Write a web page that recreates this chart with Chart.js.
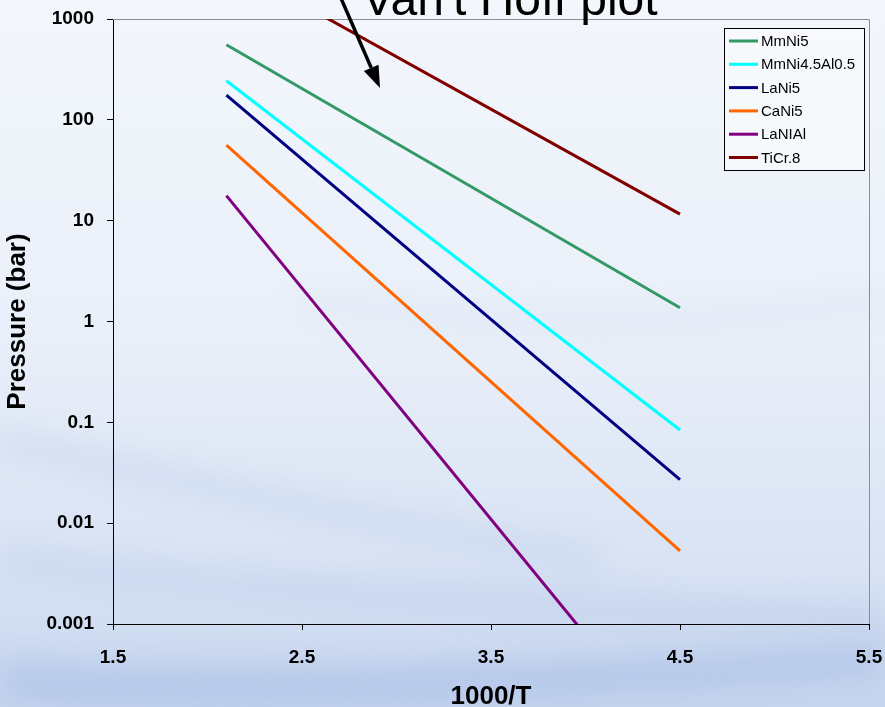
<!DOCTYPE html>
<html>
<head>
<meta charset="utf-8">
<script src="https://cdn.jsdelivr.net/npm/chart.js@4/dist/chart.umd.min.js"></script>
<style>
  html, body { margin: 0; padding: 0; background: #e9eff9; }
  #wrap { width: 885px; height: 707px; }
</style>
</head>
<body>
<div id="wrap"><canvas id="vantHoff" width="885" height="707"></canvas></div>
<script>
// 1000/T values where each isotherm line is evaluated
const xValues = [2.1, 4.5];

// plateau pressures (bar) at the two ends
const mmNi5 = [556, 1.37];
const mmNi45Al05 = [244, 0.084];
const laNi5 = [176, 0.027];
const caNi5 = [56, 0.0053];
const laNiAl = [17.7, 0.0000557];
const tiCr8 = [3650, 11.6];

const seriesNames = ['MmNi5', 'MmNi4.5Al0.5', 'LaNi5', 'CaNi5', 'LaNIAl', 'TiCr.8'];
const seriesColors = ['#339966', '#00ffff', '#000080', '#ff6600', '#800080', '#800000'];
const seriesValues = [mmNi5, mmNi45Al05, laNi5, caNi5, laNiAl, tiCr8];

const xTickValues = [1.5, 2.5, 3.5, 4.5, 5.5];
const yTickValues = [0.001, 0.01, 0.1, 1, 10, 100, 1000];
const yTickLabels = ['0.001', '0.01', '0.1', '1', '10', '100', '1000'];

const chartTitle = "Van't Hoff plot";

const datasets = seriesNames.map((name, i) => ({
  label: name,
  data: xValues.map((x, j) => ({ x: x, y: seriesValues[i][j] })),
  borderColor: seriesColors[i],
  backgroundColor: seriesColors[i],
  borderWidth: 3,
  showLine: true,
  pointRadius: 0,
  fill: false,
  clip: 0
}));

// soft blue backdrop with a few faint swooshes
const backdrop = {
  id: 'backdrop',
  beforeDraw(chart) {
    const { ctx, width, height } = chart;
    ctx.save();
    const g = ctx.createLinearGradient(0, 0, 0, height);
    g.addColorStop(0, '#f3f6fc');
    g.addColorStop(0.45, '#eaf0f9');
    g.addColorStop(0.8, '#d9e3f4');
    g.addColorStop(1, '#c6d5ee');
    ctx.fillStyle = g;
    ctx.fillRect(0, 0, width, height);
    ctx.filter = 'blur(14px)';
    const bands = [
      [0, 440, 250, 500, 600, 560, 'rgba(180,200,232,0.35)', 26],
      [0, 560, 350, 600, 885, 620, 'rgba(175,196,232,0.3)', 30],
      [0, 680, 300, 700, 885, 660, 'rgba(160,185,228,0.45)', 40],
      [300, 300, 600, 340, 885, 300, 'rgba(210,222,242,0.35)', 20]
    ];
    bands.forEach(b => {
      ctx.strokeStyle = b[6];
      ctx.lineWidth = b[7];
      ctx.beginPath();
      ctx.moveTo(b[0], b[1]);
      ctx.quadraticCurveTo(b[2], b[3], b[4], b[5]);
      ctx.stroke();
    });
    ctx.restore();
  },
  beforeDatasetsDraw(chart) {
    const { ctx, chartArea: a } = chart;
    ctx.save();
    ctx.strokeStyle = '#8c8c8c';
    ctx.lineWidth = 1;
    ctx.beginPath();
    ctx.moveTo(a.left, a.top + 0.5);
    ctx.lineTo(a.right + 0.5, a.top + 0.5);
    ctx.lineTo(a.right + 0.5, a.bottom);
    ctx.stroke();
    ctx.restore();
  }
};

// boxed legend, title and arrow
const overlay = {
  id: 'overlay',
  afterDraw(chart) {
    const { ctx } = chart;
    ctx.save();

    const bx = 724, by = 28, bw = 140, bh = 142;
    ctx.fillStyle = 'rgba(250,251,254,0.6)';
    ctx.fillRect(bx, by, bw, bh);
    ctx.strokeStyle = '#000';
    ctx.lineWidth = 1;
    ctx.strokeRect(bx + 0.5, by + 0.5, bw, bh);
    ctx.font = '15px "Liberation Sans", Arial, sans-serif';
    ctx.textBaseline = 'middle';
    chart.data.datasets.forEach((ds, i) => {
      const y = by + 13 + i * 23.3;
      ctx.strokeStyle = ds.borderColor;
      ctx.lineWidth = 3;
      ctx.beginPath();
      ctx.moveTo(bx + 5, y);
      ctx.lineTo(bx + 34, y);
      ctx.stroke();
      ctx.fillStyle = '#000';
      ctx.fillText(ds.label, bx + 37, y + 1);
    });

    ctx.fillStyle = '#000';
    ctx.font = '48px "Liberation Sans", Arial, sans-serif';
    ctx.textBaseline = 'alphabetic';
    ctx.textAlign = 'left';
    ctx.fillText(chartTitle, 362, 15);

    // arrow pointing at the TiCr.8 line
    const x0 = 340, y0 = -4, x1 = 380, y1 = 88;
    const ang = Math.atan2(y1 - y0, x1 - x0);
    const head = 22, half = 8;
    const bxh = x1 - head * Math.cos(ang), byh = y1 - head * Math.sin(ang);
    ctx.strokeStyle = '#000';
    ctx.lineWidth = 3.5;
    ctx.beginPath();
    ctx.moveTo(x0, y0);
    ctx.lineTo(bxh, byh);
    ctx.stroke();
    ctx.beginPath();
    ctx.moveTo(x1, y1);
    ctx.lineTo(bxh + half * Math.sin(ang), byh - half * Math.cos(ang));
    ctx.lineTo(bxh - half * Math.sin(ang), byh + half * Math.cos(ang));
    ctx.closePath();
    ctx.fill();
    ctx.restore();
  }
};

const tickFont = { family: '"Liberation Sans", Arial, sans-serif', size: 19, weight: 'bold' };
const titleFont = { family: '"Liberation Sans", Arial, sans-serif', size: 26, weight: 'bold', lineHeight: 0.8 };

new Chart(document.getElementById('vantHoff'), {
  type: 'scatter',
  data: { datasets: datasets },
  options: {
    responsive: false,
    animation: false,
    events: [],
    layout: { padding: { left: 0, top: 19, right: 16, bottom: 0 } },
    plugins: {
      legend: { display: false },
      tooltip: { enabled: false }
    },
    scales: {
      x: {
        type: 'linear',
        min: 1.5,
        max: 5.5,
        afterBuildTicks: s => { s.ticks = xTickValues.map(v => ({ value: v })); },
        afterFit: s => { s.height = 83; s.paddingLeft = 0; s.paddingRight = 0; },
        ticks: { color: '#000', font: tickFont, padding: 16, maxRotation: 0,
          callback: v => v.toFixed(1) },
        grid: { drawOnChartArea: false, drawTicks: true, tickLength: 6, color: '#000' },
        border: { display: true, color: '#000', width: 1 },
        title: { display: true, text: '1000/T', color: '#000', font: titleFont, padding: { top: 0, bottom: 0 } }
      },
      y: {
        type: 'logarithmic',
        min: 0.001,
        max: 1000,
        afterBuildTicks: s => { s.ticks = yTickValues.map(v => ({ value: v })); },
        afterFit: s => { s.width = 113; s.paddingTop = 0; s.paddingBottom = 0; },
        ticks: { color: '#000', font: tickFont, padding: 13,
          callback: v => yTickLabels[yTickValues.indexOf(v)] ?? '' },
        grid: { drawOnChartArea: false, drawTicks: true, tickLength: 6, color: '#000' },
        border: { display: true, color: '#000', width: 1 },
        title: { display: true, text: 'Pressure (bar)', color: '#000', font: titleFont, padding: { top: 7, bottom: 0 } }
      }
    }
  },
  plugins: [backdrop, overlay]
});
</script>
</body>
</html>
